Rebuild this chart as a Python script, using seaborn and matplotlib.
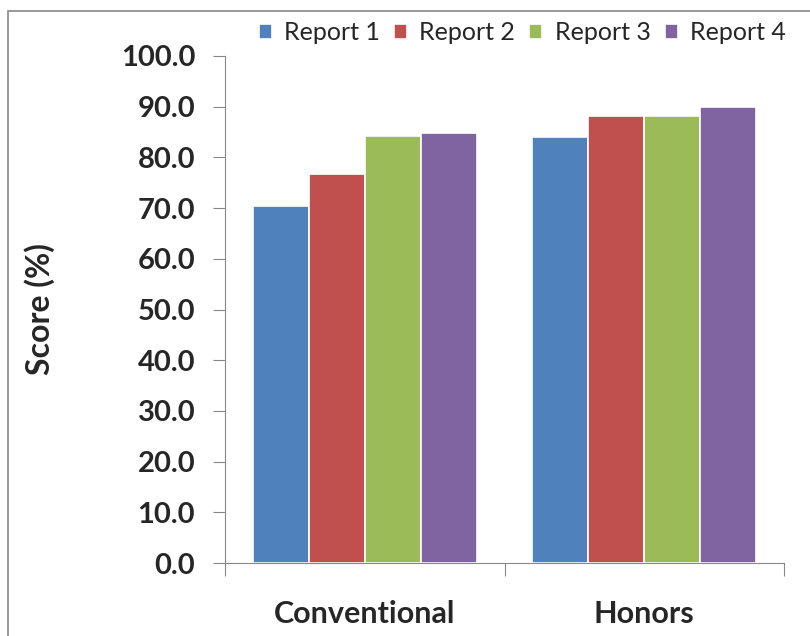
import numpy as np
import pandas as pd
import matplotlib.pyplot as plt
import seaborn as sns
from matplotlib.ticker import FormatStrFormatter
from matplotlib.patches import Rectangle

groups = ["Conventional", "Honors"]
reports = ["Report 1", "Report 2", "Report 3", "Report 4"]
report1 = [70.5, 84.0]
report2 = [76.7, 88.1]
report3 = [84.2, 88.1]
report4 = [84.8, 89.9]
colors = ["#4F81BD", "#C0504D", "#9BBB59", "#8064A2"]

rows = []
for rep, vals in zip(reports, [report1, report2, report3, report4]):
    for g, v in zip(groups, vals):
        rows.append({"group": g, "report": rep, "score": v})
df = pd.DataFrame(rows)

sns.set_style("white")
plt.rcParams["font.family"] = ["Lato", "DejaVu Sans"]

fig = plt.figure(figsize=(8.1, 6.36), dpi=100)
ax = fig.add_axes([225 / 810, 1 - 563 / 636, 559 / 810, 507 / 636])

sns.barplot(data=df, x="group", y="score", hue="report", palette=colors,
            order=groups, hue_order=reports, width=0.8, saturation=1,
            edgecolor="white", linewidth=1.2, ax=ax)

ax.set_ylim(0, 100)
ax.set_xlim(-0.5, 1.5)
ax.set_yticks(np.arange(0, 101, 10))
ax.yaxis.set_major_formatter(FormatStrFormatter("%.1f"))
ax.tick_params(axis="y", labelsize=21, length=8.5, color="#888888", left=True, pad=13)
for lab in ax.get_yticklabels():
    lab.set_fontweight("bold")

ax.set_xticks([-0.5, 0.5, 1.5])
ax.set_xticklabels([])
ax.tick_params(axis="x", bottom=True, length=9, color="#888888")
for i, g in enumerate(groups):
    ax.text(i, -0.1, g, transform=ax.get_xaxis_transform(), ha="center", va="center",
            fontsize=22, fontweight="bold")

ax.set_xlabel("")
ax.set_ylabel("Score (%)", fontsize=23, fontweight="bold")
ax.yaxis.set_label_coords(-0.304, 0.5)

sns.despine(ax=ax, top=True, right=True)
ax.spines["left"].set_color("#888888")
ax.spines["bottom"].set_color("#888888")

ax.legend(loc="center right", bbox_to_anchor=(786 / 810, 1 - 33 / 636),
          bbox_transform=fig.transFigure, ncol=4, frameon=False,
          fontsize=18, handlelength=0.52, handleheight=0.52, handletextpad=0.5,
          columnspacing=0.56, borderaxespad=0, borderpad=0)

fig.patches.append(Rectangle((8 / 810, -0.1), 1.0, 1.1 - 11 / 636,
                             transform=fig.transFigure, fill=False,
                             edgecolor="#888888", linewidth=1.2))

fig.savefig("out.png", dpi=100)
